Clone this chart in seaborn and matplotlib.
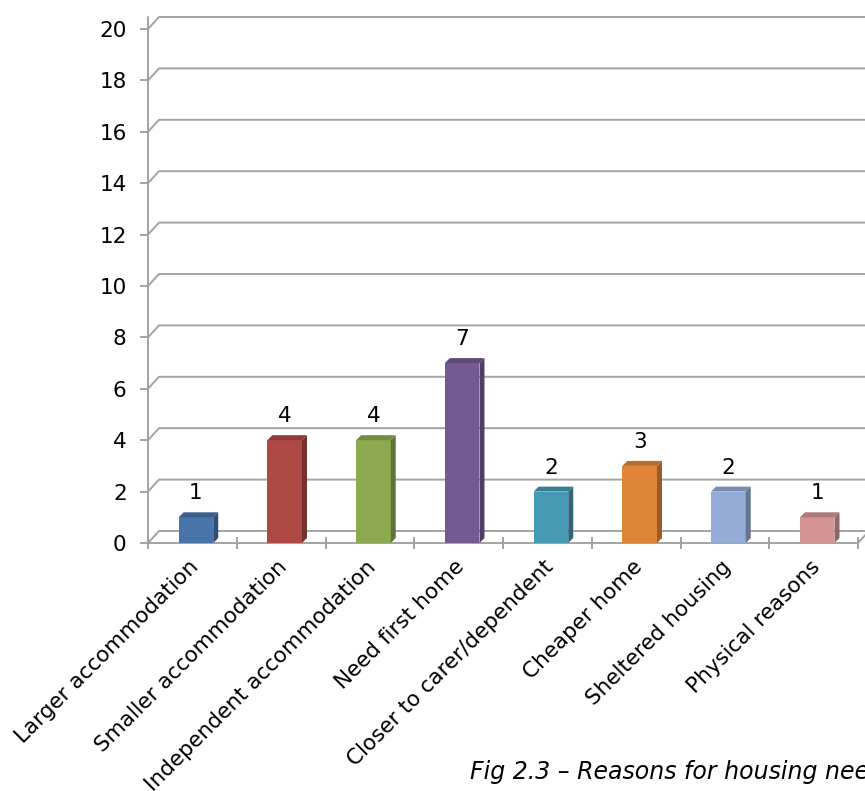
import numpy as np
import pandas as pd
import seaborn as sns
import matplotlib.pyplot as plt
import matplotlib.transforms as mtransforms
from matplotlib.patches import Polygon
from matplotlib.colors import to_rgb

# Reasons given for housing need and the number of households citing each
categories = [
    "Larger accommodation",
    "Smaller accommodation",
    "Independent accommodation",
    "Need first home",
    "Closer to carer/dependent",
    "Cheaper home",
    "Sheltered housing",
    "Physical reasons",
]
counts = [1, 4, 4, 7, 2, 3, 2, 1]
bar_colors = ["#4874AA", "#AD4845", "#8CAA4F", "#735A93",
              "#4599B3", "#DF8538", "#95ACD6", "#D59494"]
y_ticks = list(range(0, 21, 2))
caption = "Fig 2.3 \u2013 Reasons for housing need"

sns.set_theme(style="white")
plt.rcParams["font.family"] = ["DejaVu Sans"]

W, H = 865, 791
fig = plt.figure(figsize=(W / 100, H / 100), dpi=100)
ax = fig.add_axes([148 / W, (H - 543) / H, 710 / W, 514 / H])

df = pd.DataFrame({"reason": categories, "count": counts})
sns.barplot(data=df, x="reason", y="count", hue="reason", palette=bar_colors,
            width=0.39, saturation=1, legend=False, ax=ax, zorder=3)

ax.set_xlim(-0.5, 7.5)
ax.set_ylim(0, 20)
for s in ax.spines.values():
    s.set_visible(False)
ax.set_xlabel("")
ax.set_ylabel("")

# pixel sizes of one data unit, used for the pseudo-3D offsets
sx = 710 / 8
sy = 514 / 20
wall_dx, wall_dy = 11 / sx, 12 / sy      # back wall depth
bar_dx, bar_dy = 5 / sx, 5 / sy          # bar depth
grid_c = "#a3a3a3"
grid_lw = 1.4

def shade(c, f):
    r, g, b = to_rgb(c)
    return (r * f, g * f, b * f)

# back-wall gridlines with their slanted joins to the value axis
for t in y_ticks:
    ax.plot([-0.5, -0.5 + wall_dx, 8.5], [t, t + wall_dy, t + wall_dy],
            color=grid_c, lw=grid_lw, clip_on=False, zorder=1)
# value axis and floor front edge
ax.plot([-0.5, -0.5], [0, 20 + wall_dy], color=grid_c, lw=grid_lw,
        clip_on=False, zorder=2)
ax.plot([-0.5, 7.5, 7.5 + wall_dx], [0, 0, wall_dy], color=grid_c,
        lw=grid_lw, clip_on=False, zorder=2)

# give each bar a top and side face
for cont, col in zip(ax.containers, bar_colors):
    for bar in cont:
        bar.set_x(bar.get_x() + 0.04)
        bar.set_edgecolor("none")
        x0 = bar.get_x()
        x1 = x0 + bar.get_width()
        h = bar.get_height()
        side = Polygon([(x1, 0), (x1, h), (x1 + bar_dx, h + bar_dy),
                        (x1 + bar_dx, bar_dy)], closed=True,
                       facecolor=shade(col, 0.68), edgecolor="none", zorder=3)
        top = Polygon([(x0, h), (x1, h), (x1 + bar_dx, h + bar_dy),
                       (x0 + bar_dx, h + bar_dy)], closed=True,
                      facecolor=shade(col, 0.82), edgecolor="none", zorder=3)
        ax.add_patch(side)
        ax.add_patch(top)
        ax.annotate(f"{h:g}", xy=(x0 + bar.get_width() / 2, h),
                    xytext=(0, 13), textcoords="offset points",
                    ha="center", va="baseline", fontsize=15.5, color="black")

# value axis ticks
ax.set_yticks(y_ticks)
ax.tick_params(axis="y", length=5.8, width=grid_lw, color=grid_c,
               direction="out", pad=9.5, labelsize=15.5, labelcolor="black",
               left=True)

# category axis: boundary ticks, centred rotated labels
ax.set_xticks(range(len(categories)))
ax.set_xticklabels(categories, rotation=45, ha="right", va="center",
                   rotation_mode="anchor", fontsize=15.5, color="black")
ax.set_xticks(np.arange(-0.5, 8, 1), minor=True)
ax.tick_params(axis="x", which="major", length=0, pad=15)
ax.tick_params(axis="x", which="minor", length=8.6, width=grid_lw,
               color=grid_c, direction="inout", bottom=True)
shift = mtransforms.ScaledTranslation(3 / 100, 0, fig.dpi_scale_trans)
for lbl in ax.get_xticklabels():
    lbl.set_transform(lbl.get_transform() + shift)

fig.text(470 / W, 1 - 779 / H, caption, style="italic", fontsize=17,
         ha="left", va="baseline", color="black")

fig.savefig("out.png", dpi=100)
